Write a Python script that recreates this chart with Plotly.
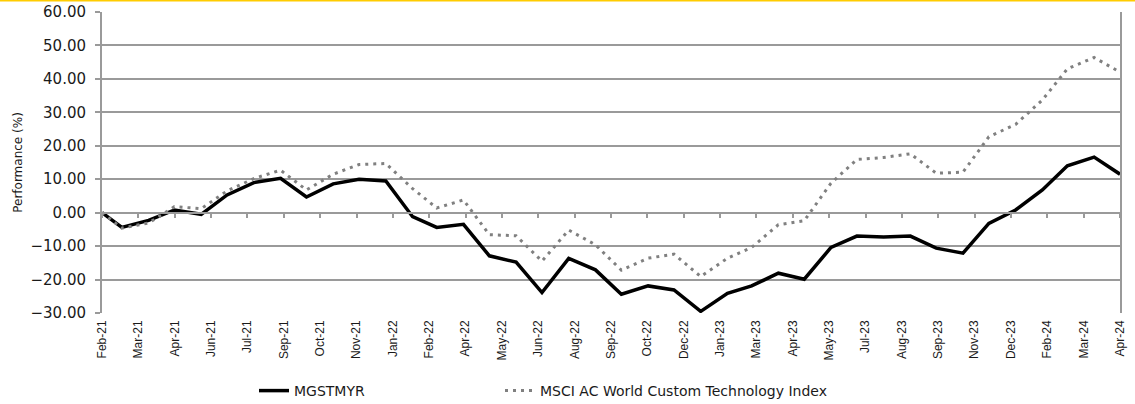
import plotly.graph_objects as go
import pandas as pd

dates = ["2021-02-05",
         "2021-02-28", "2021-03-31", "2021-04-30", "2021-05-31", "2021-06-30", "2021-07-31",
         "2021-08-31", "2021-09-30", "2021-10-31", "2021-11-30", "2021-12-31",
         "2022-01-31", "2022-02-28", "2022-03-31", "2022-04-30", "2022-05-31", "2022-06-30",
         "2022-07-31", "2022-08-31", "2022-09-30", "2022-10-31", "2022-11-30", "2022-12-31",
         "2023-01-31", "2023-02-28", "2023-03-31", "2023-04-30", "2023-05-31", "2023-06-30",
         "2023-07-31", "2023-08-31", "2023-09-30", "2023-10-31", "2023-11-30", "2023-12-31",
         "2024-01-31", "2024-02-29", "2024-03-31", "2024-04-30"]

mgstmyr = [0, -4.4, -2.3, 0.8, -0.5, 5.3, 9.0, 10.3, 4.7, 8.6, 10.0, 9.5, -1.2, -4.4, -3.5,
           -12.9, -14.8, -23.9, -13.7, -17.1, -24.4, -21.9, -23.1, -29.5, -24.1, -21.9, -18.1,
           -19.9, -10.4, -7.0, -7.3, -7.0, -10.6, -12.1, -3.2, 0.8, 6.8, 14.0, 16.6, 11.5]

msci = [0, -4.6, -3.1, 1.8, 1.2, 6.5, 10.2, 12.7, 6.8, 11.5, 14.4, 14.7, 7.2, 1.4, 3.8,
        -6.6, -6.9, -14.5, -5.2, -9.6, -17.2, -13.6, -12.4, -19.1, -13.6, -10.4, -3.6,
        -2.4, 8.8, 15.9, 16.5, 17.6, 11.8, 12.1, 22.7, 26.4, 33.7, 43.0, 46.4, 42.0]

tick_labels = ["Feb-21", "Mar-21", "Apr-21", "Jun-21", "Jul-21", "Sep-21", "Oct-21", "Nov-21",
               "Jan-22", "Feb-22", "Apr-22", "May-22", "Jun-22", "Aug-22", "Sep-22", "Oct-22",
               "Dec-22", "Jan-23", "Mar-23", "Apr-23", "May-23", "Jul-23", "Aug-23", "Sep-23",
               "Nov-23", "Dec-23", "Feb-24", "Mar-24", "Apr-24"]

series_names = ["MGSTMYR", "MSCI AC World Custom Technology Index"]

tickvals = pd.date_range(dates[0], dates[-1], periods=len(tick_labels))
xrange = [dates[0], dates[-1]]

GRID = "#9a9a9a"
TXT = "#1a1a1a"

fig = go.Figure()
fig.add_trace(go.Scatter(x=dates, y=mgstmyr, mode="lines", name=series_names[0],
                         line=dict(color="#000000", width=3.5), legend="legend"))
fig.add_trace(go.Scatter(x=dates, y=msci, mode="lines", name=series_names[1],
                         line=dict(color="#808080", width=3, dash="3px,5px"), legend="legend2"))
# invisible helper trace for the zero-crossing axis
fig.add_trace(go.Scatter(x=[dates[0]], y=[0], xaxis="x2", mode="lines",
                         showlegend=False, hoverinfo="skip", line=dict(width=0)))

fig.update_layout(
    width=1135, height=404, autosize=False,
    margin=dict(l=102, r=15, t=12, b=91, autoexpand=False),
    paper_bgcolor="white", plot_bgcolor="white",
    font=dict(family="DejaVu Sans", color=TXT),
    xaxis=dict(type="date", range=xrange, tickvals=tickvals, ticktext=tick_labels,
               tickangle=-90, showgrid=False, zeroline=False, showline=False, ticks="",
               tickfont=dict(family="Liberation Sans", size=12, color=TXT),
               ticklabelstandoff=4),
    xaxis2=dict(type="date", range=xrange, tickvals=tickvals, ticktext=tick_labels,
                overlaying="x", anchor="free", position=1/3, showticklabels=False,
                showgrid=False, zeroline=False, showline=True, linecolor=GRID, linewidth=1.5,
                ticks="outside", ticklen=5, tickcolor=GRID, tickwidth=1.5),
    yaxis=dict(range=[-30, 60], dtick=10, tickformat=".2f", showgrid=True, gridcolor=GRID,
               gridwidth=1.5, zeroline=False, showline=True, linecolor=GRID, linewidth=2,
               mirror=True, ticks="outside", ticklen=5, tickcolor=GRID, tickwidth=1.5,
               tickfont=dict(family="DejaVu Sans", size=15, color=TXT),
               ticklabelstandoff=6,
               title=dict(text="Performance (%)", standoff=5,
                          font=dict(family="DejaVu Sans", size=12, color=TXT))),
    legend=dict(orientation="h", x=(254 - 102) / 1018, xanchor="left", y=(313 - 391) / 301,
                yanchor="middle", font=dict(family="DejaVu Sans", size=14, color=TXT),
                bgcolor="rgba(0,0,0,0)"),
    legend2=dict(orientation="h", x=(500 - 102) / 1018, xanchor="left", y=(313 - 391) / 301,
                 yanchor="middle", font=dict(family="DejaVu Sans", size=14, color=TXT),
                 bgcolor="rgba(0,0,0,0)"),
    shapes=[dict(type="line", xref="paper", yref="paper", x0=-0.2, x1=1.2,
                 y0=(313 - 0.5) / 301, y1=(313 - 0.5) / 301,
                 line=dict(color="#FFCC00", width=2))],
)

fig.write_html("out.html", config={"displayModeBar": False},
               post_script="document.body.style.margin='0';")
